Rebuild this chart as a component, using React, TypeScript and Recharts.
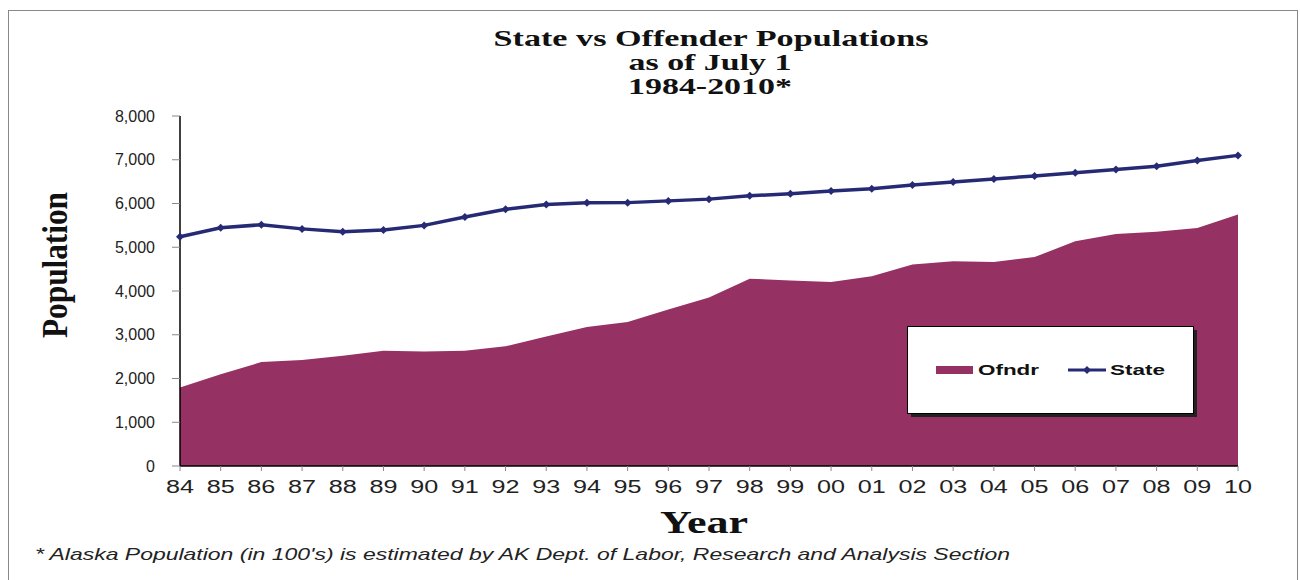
import React from 'react';
import {
  ComposedChart,
  Area,
  Line,
  XAxis,
  YAxis,
} from 'recharts';

const years = [
  '84', '85', '86', '87', '88', '89', '90', '91', '92', '93', '94', '95', '96', '97',
  '98', '99', '00', '01', '02', '03', '04', '05', '06', '07', '08', '09', '10',
];

const stateValues = [
  5240, 5445, 5515, 5420, 5355, 5395, 5500, 5690, 5870, 5975, 6015, 6020, 6060, 6100,
  6175, 6225, 6285, 6335, 6425, 6490, 6560, 6630, 6705, 6775, 6850, 6985, 7100,
];

const ofndrValues = [
  1795, 2100, 2375, 2425, 2520, 2635, 2620, 2635, 2735, 2960, 3175, 3290, 3575, 3850,
  4280, 4240, 4205, 4340, 4605, 4680, 4665, 4775, 5135, 5305, 5355, 5440, 5750,
];

const yTicks = [0, 1000, 2000, 3000, 4000, 5000, 6000, 7000, 8000];

const data = years.map((year, i) => ({
  year,
  ofndr: ofndrValues[i],
  state: stateValues[i],
}));

const OFNDR = '#963163';
const STATE = '#262A74';
const serif = "'Liberation Serif', 'Times New Roman', serif";
const sans = "'Liberation Sans', Arial, sans-serif";

const fmt = (v: number) => v.toLocaleString('en-US');

function Diamond(props: any) {
  const { cx, cy } = props;
  if (cx == null || cy == null) return null;
  const s = 4;
  return (
    <path
      d={`M${cx},${cy - s}L${cx + s},${cy}L${cx},${cy + s}L${cx - s},${cy}Z`}
      fill={STATE}
    />
  );
}

function XTick(props: any) {
  const { x, y, payload } = props;
  return (
    <text
      x={x}
      y={y}
      dy="0.71em"
      textAnchor="middle"
      fontFamily={sans}
      fontSize={18}
      fill="#222"
      textLength={28}
      lengthAdjust="spacingAndGlyphs"
    >
      {payload.value}
    </text>
  );
}

// legend box drawn by hand, sits over the plot like the original
function LegendBox() {
  return (
    <g transform="translate(907,326)">
      <rect x={4} y={4} width={286} height={87} fill="#222" />
      <rect x={0.5} y={0.5} width={286} height={87} fill="#fff" stroke="#000" />
      <rect x={29} y={40} width={37} height={8} fill={OFNDR} />
      <text
        x={71}
        y={49}
        fontFamily={sans}
        fontWeight="bold"
        fontSize={15}
        fill="#111"
        textLength={61}
        lengthAdjust="spacingAndGlyphs"
      >
        Ofndr
      </text>
      <line x1={161} y1={44} x2={199} y2={44} stroke={STATE} strokeWidth={3} />
      <path d="M180,40L184,44L180,48L176,44Z" fill={STATE} />
      <text
        x={203}
        y={49}
        fontFamily={sans}
        fontWeight="bold"
        fontSize={15}
        fill="#111"
        textLength={55}
        lengthAdjust="spacingAndGlyphs"
      >
        State
      </text>
    </g>
  );
}

export default function App() {
  return (
    <div style={{ position: 'absolute', left: 0, top: 0, width: 1300, height: 580, background: '#fff' }}>
      <ComposedChart
        width={1300}
        height={580}
        data={data}
        margin={{ top: 116, right: 62, bottom: 0, left: 0 }}
      >
        <XAxis
          dataKey="year"
          scale="point"
          height={114}
          interval={0}
          axisLine={{ stroke: '#000', strokeWidth: 1.5 }}
          tickLine={{ stroke: '#888' }}
          tickSize={5}
          tickMargin={9}
          tick={<XTick />}
        />
        <YAxis
          width={180}
          domain={[0, 8000]}
          ticks={yTicks}
          interval={0}
          tickFormatter={fmt}
          axisLine={{ stroke: '#000', strokeWidth: 1.5 }}
          tickLine={{ stroke: '#888' }}
          tickSize={8}
          tickMargin={17}
          tick={{ fill: '#222', fontSize: 16, fontFamily: sans }}
        />
        <Area
          type="linear"
          dataKey="ofndr"
          name="Ofndr"
          fill={OFNDR}
          fillOpacity={1}
          stroke="none"
          isAnimationActive={false}
        />
        <Line
          type="linear"
          dataKey="state"
          name="State"
          stroke={STATE}
          strokeWidth={3.5}
          dot={<Diamond />}
          activeDot={false}
          isAnimationActive={false}
        />
      </ComposedChart>
      <svg
        width={1300}
        height={580}
        style={{ position: 'absolute', left: 0, top: 0, pointerEvents: 'none' }}
      >
        <rect x={8.5} y={10.5} width={1289} height={600} fill="none" stroke="#888" />
        <g fontFamily={serif} fontWeight="bold" fontSize={23} fill="#111" textAnchor="middle">
          <text x={711} y={46} textLength={435} lengthAdjust="spacingAndGlyphs">
            State vs Offender Populations
          </text>
          <text x={710} y={70} textLength={163} lengthAdjust="spacingAndGlyphs">
            as of July 1
          </text>
          <text x={710} y={94} textLength={164} lengthAdjust="spacingAndGlyphs">
            1984-2010*
          </text>
        </g>
        <text
          x={704}
          y={533}
          fontFamily={serif}
          fontWeight="bold"
          fontSize={32}
          fill="#111"
          textAnchor="middle"
          textLength={88}
          lengthAdjust="spacingAndGlyphs"
        >
          Year
        </text>
        <text
          transform="translate(67,265) rotate(-90)"
          fontFamily={serif}
          fontWeight="bold"
          fontSize={36}
          fill="#111"
          textAnchor="middle"
          textLength={146}
          lengthAdjust="spacingAndGlyphs"
        >
          Population
        </text>
        <text
          x={35}
          y={560}
          fontFamily={sans}
          fontStyle="italic"
          fontSize={17}
          fill="#222"
          textLength={975}
          lengthAdjust="spacingAndGlyphs"
        >
          * Alaska Population (in 100's) is estimated by AK Dept. of Labor, Research and Analysis Section
        </text>
        <LegendBox />
      </svg>
    </div>
  );
}
